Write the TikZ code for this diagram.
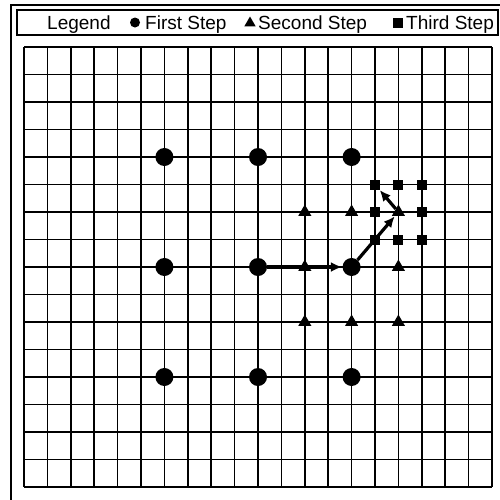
\documentclass[tikz,border=0pt]{standalone}
\usepackage{fontspec}
\setmainfont{Liberation Sans}
\usetikzlibrary{arrows.meta,positioning,shapes.geometric}

\begin{document}
\begin{tikzpicture}[x=1pt,y=-1pt,
  firstmark/.style={circle,fill,inner sep=0pt,minimum size=18pt},
  secondmark/.style={regular polygon,regular polygon sides=3,fill,inner sep=0pt,minimum size=15pt},
  thirdmark/.style={rectangle,fill,inner sep=0pt,minimum size=10pt},
  move/.style={line width=3.2pt,-{Latex[length=11pt,width=10pt]},shorten >=0.5pt},
  lbl/.style={font=\fontsize{19}{19}\selectfont,inner sep=0pt,anchor=base west}]
  \useasboundingbox (0,0) rectangle (500,499);
  \clip (0,0) rectangle (500,499);
  \fill[white] (0,0) rectangle (500,499);
  \draw[line width=1.5pt] (11,5) rectangle (520,520);
  % legend
  \draw[line width=1.5pt] (17,10) rectangle (498,35);
  \node[lbl] (leg) at (47,29) {Legend};
  \node[firstmark,minimum size=10pt] (leg1) at (135,22.5) {};
  \node[lbl] (txt1) at (145,29) {First Step};
  \node[secondmark,minimum size=13pt] (leg2) at (250,23) {};
  \node[lbl] (txt2) at (258,29) {Second Step};
  \node[thirdmark] (leg3) at (398,22.5) {};
  \node[lbl] (txt3) at (406,29) {Third Step};
  \begin{scope}[xshift=24pt,yshift=-47pt,x=23.4pt,y=-27.5pt]
    \foreach \i in {0,...,20} \draw[line width=1.7pt] (\i,0) -- (\i,16);
    \foreach \j in {0,...,16} \draw[line width=1.7pt] (0,\j) -- (20,\j);
    % first step: coarse 3x3 pattern
    \foreach \i in {6,10,14} \foreach \j in {4,8,12} \node[firstmark] (c\i-\j) at (\i,\j) {};
    % second step round the best point (14,8)
    \foreach \i/\j in {12/6,14/6,16/6,12/8,16/8,12/10,14/10,16/10} \node[secondmark] (t\i-\j) at (\i,\j) {};
    % third step round (16,6)
    \foreach \i/\j in {15/5,16/5,17/5,15/6,17/6,15/7,16/7,17/7} \node[thirdmark] (s\i-\j) at (\i,\j) {};
    \draw[move] (c10-8) -- (c14-8);
    \draw[move] (c14-8) -- (t16-6);
    \draw[move] (t16-6) -- (s15-5);
  \end{scope}
\end{tikzpicture}
\end{document}
